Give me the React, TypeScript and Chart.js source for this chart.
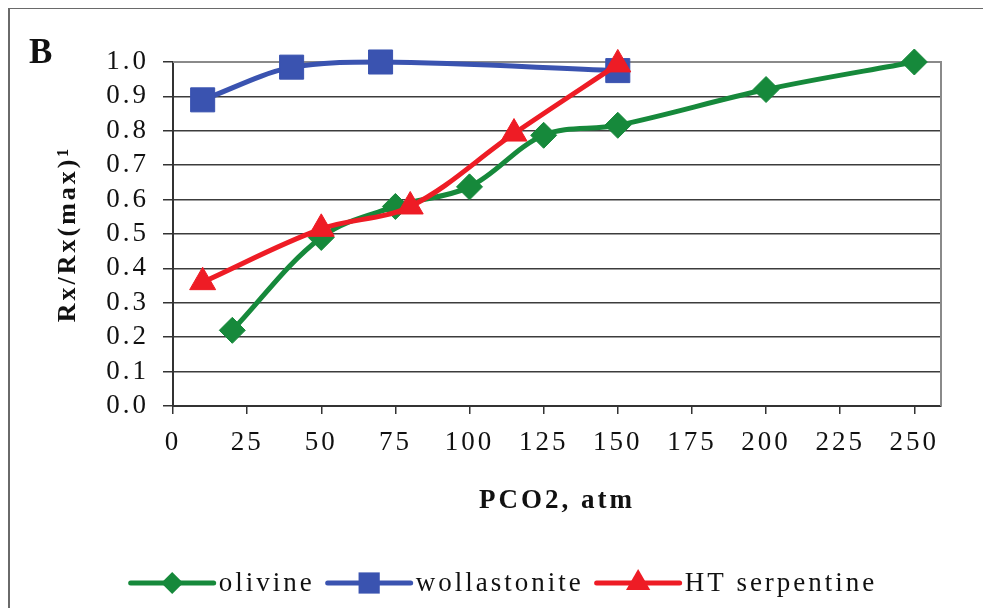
import React, { useEffect, useRef } from 'react';
import { Chart, registerables } from 'chart.js';

Chart.register(...registerables);

const FONT = '"Liberation Serif", "Times New Roman", serif';

// Data
const olivineX = [20, 50, 75, 100, 125, 150, 200, 250];
const olivineY = [0.22, 0.49, 0.58, 0.637, 0.787, 0.816, 0.92, 1.0];
const wollastoniteX = [10, 40, 70, 150];
const wollastoniteY = [0.89, 0.985, 1.0, 0.975];
const serpentineX = [10, 50, 80, 115, 150];
const serpentineY = [0.36, 0.515, 0.58, 0.792, 0.993];

const seriesNames = ['olivine', 'wollastonite', 'HT serpentine'];
const seriesColors = ['#16893b', '#3a53b0', '#ee1c25'];
const seriesMarkers = ['rectRot', 'rect', 'triangle'];

const xTitle = 'PCO2, atm';
const yTitle = 'Rx/Rx(max)\u00B9';
const panelLabel = 'B';

const SPACING = '3px';

function drawMarker(ctx: CanvasRenderingContext2D, style: string, x: number, y: number, r: number) {
  ctx.beginPath();
  if (style === 'rectRot') {
    ctx.moveTo(x - r, y);
    ctx.lineTo(x, y - r);
    ctx.lineTo(x + r, y);
    ctx.lineTo(x, y + r);
  } else if (style === 'rect') {
    const s = r * Math.SQRT1_2;
    ctx.rect(x - s, y - s, 2 * s, 2 * s);
  } else {
    const h = r;
    ctx.moveTo(x, y - h);
    ctx.lineTo(x + h * Math.sin(Math.PI * 2 / 3), y - h * Math.cos(Math.PI * 2 / 3));
    ctx.lineTo(x - h * Math.sin(Math.PI * 2 / 3), y - h * Math.cos(Math.PI * 2 / 3));
  }
  ctx.closePath();
  ctx.fill();
}

export default function App() {
  const ref = useRef<HTMLCanvasElement>(null);

  useEffect(() => {
    const canvas = ref.current;
    if (!canvas) return;
    const pts = (xs: number[], ys: number[]) => xs.map((x, i) => ({ x, y: ys[i] }));

    const decorPlugin = {
      id: 'decor',
      beforeDraw(chart: any) {
        const ctx = chart.ctx as any;
        ctx.save();
        ctx.letterSpacing = '0px';
        ctx.strokeStyle = '#6a6a6a';
        ctx.lineWidth = 2;
        ctx.beginPath();
        ctx.moveTo(1, chart.height);
        ctx.lineTo(1, 0);
        ctx.moveTo(0, 0);
        ctx.lineTo(chart.width, 0);
        ctx.stroke();
        ctx.fillStyle = '#111';
        ctx.font = `bold 35px ${FONT}`;
        ctx.textBaseline = 'alphabetic';
        ctx.textAlign = 'left';
        ctx.fillText(panelLabel, 21, 55);
        ctx.restore();
        ctx.letterSpacing = SPACING;
      },
      beforeDatasetsDraw(chart: any) {
        const { ctx, chartArea } = chart;
        ctx.save();
        ctx.strokeStyle = '#8a8a8a';
        ctx.lineWidth = 2;
        ctx.beginPath();
        ctx.moveTo(chartArea.left, chartArea.top);
        ctx.lineTo(chartArea.right, chartArea.top);
        ctx.lineTo(chartArea.right, chartArea.bottom);
        ctx.stroke();
        ctx.restore();
      },
      afterDraw(chart: any) {
        const ctx = chart.ctx as any;
        ctx.save();
        ctx.letterSpacing = SPACING;
        ctx.font = `27px ${FONT}`;
        ctx.textBaseline = 'middle';
        ctx.textAlign = 'left';
        const lineLen = 87;
        const gapAfterLine = 3;
        const gapAfterText = 11;
        const widths = seriesNames.map((n) => ctx.measureText(n).width);
        let total = 0;
        widths.forEach((w: number, i: number) => {
          total += lineLen + gapAfterLine + w + (i < widths.length - 1 ? gapAfterText : 0);
        });
        let x = 495 - total / 2;
        const y = 575;
        const radii = [11, 15, 14];
        seriesNames.forEach((name, i) => {
          ctx.strokeStyle = seriesColors[i];
          ctx.fillStyle = seriesColors[i];
          ctx.lineWidth = 5;
          ctx.lineCap = 'round';
          ctx.beginPath();
          ctx.moveTo(x + 2, y);
          ctx.lineTo(x + lineLen - 2, y);
          ctx.stroke();
          drawMarker(ctx, seriesMarkers[i], x + lineLen / 2, y, radii[i]);
          x += lineLen + gapAfterLine;
          ctx.fillStyle = '#111';
          ctx.fillText(name, x, y + 1);
          x += widths[i] + gapAfterText;
        });
        ctx.restore();
      },
    };

    const makeSet = (i: number, data: any[], radius: number, order: number) => ({
      label: seriesNames[i],
      data,
      borderColor: seriesColors[i],
      backgroundColor: seriesColors[i],
      pointBackgroundColor: seriesColors[i],
      pointBorderColor: seriesColors[i],
      borderWidth: 5,
      pointStyle: seriesMarkers[i] as any,
      pointRadius: radius,
      pointHoverRadius: radius,
      pointBorderWidth: 1,
      tension: 0.35,
      fill: false,
      order,
      clip: false as any,
    });

    const chart = new Chart(canvas, {
      type: 'line',
      data: {
        datasets: [
          makeSet(0, pts(olivineX, olivineY), 13, 3),
          makeSet(1, pts(wollastoniteX, wollastoniteY), 17, 2),
          makeSet(2, pts(serpentineX, serpentineY), 15, 1),
        ],
      },
      options: {
        animation: false,
        responsive: true,
        maintainAspectRatio: false,
        layout: { padding: { left: 40, right: 50, top: 54, bottom: 82 } },
        plugins: {
          legend: { display: false },
          tooltip: { enabled: false },
        },
        scales: {
          x: {
            type: 'linear',
            min: 0,
            max: 259,
            afterFit: (s: any) => { s.height = 120; },
            ticks: {
              stepSize: 25,
              includeBounds: false,
              autoSkip: false,
              maxRotation: 0,
              padding: 13,
              color: '#111',
              font: { family: FONT, size: 27 },
              callback: (v: any) => String(v),
            },
            grid: {
              drawOnChartArea: false,
              drawTicks: true,
              tickLength: 8,
              color: '#333',
              lineWidth: 1.5,
            },
            border: { display: true, color: '#333', width: 2 },
            title: {
              display: true,
              text: xTitle,
              color: '#111',
              font: { family: FONT, size: 27, weight: 'bold' },
              padding: { top: 0, bottom: 9 },
            },
          },
          y: {
            type: 'linear',
            min: 0,
            max: 1,
            afterFit: (s: any) => { s.width = 125; },
            ticks: {
              stepSize: 0.1,
              autoSkip: false,
              padding: 14,
              color: '#111',
              font: { family: FONT, size: 27 },
              callback: (v: any) => Number(v).toFixed(1),
            },
            grid: {
              color: (c: any) => (c.tick && Math.abs(c.tick.value - 1) < 1e-6 ? '#8a8a8a' : '#3c3c3c'),
              tickColor: '#333',
              lineWidth: 1.5,
              drawTicks: true,
              tickLength: 10,
            },
            border: { display: true, color: '#333', width: 2 },
            title: {
              display: true,
              text: yTitle,
              color: '#111',
              font: { family: FONT, size: 26, weight: 'bold' },
              padding: { top: 5, bottom: 0 },
            },
          },
        },
      },
      plugins: [decorPlugin],
    });

    return () => chart.destroy();
  }, []);

  return (
    <div style={{ width: 983, height: 600, position: 'relative' }}>
      <canvas ref={ref} />
    </div>
  );
}
